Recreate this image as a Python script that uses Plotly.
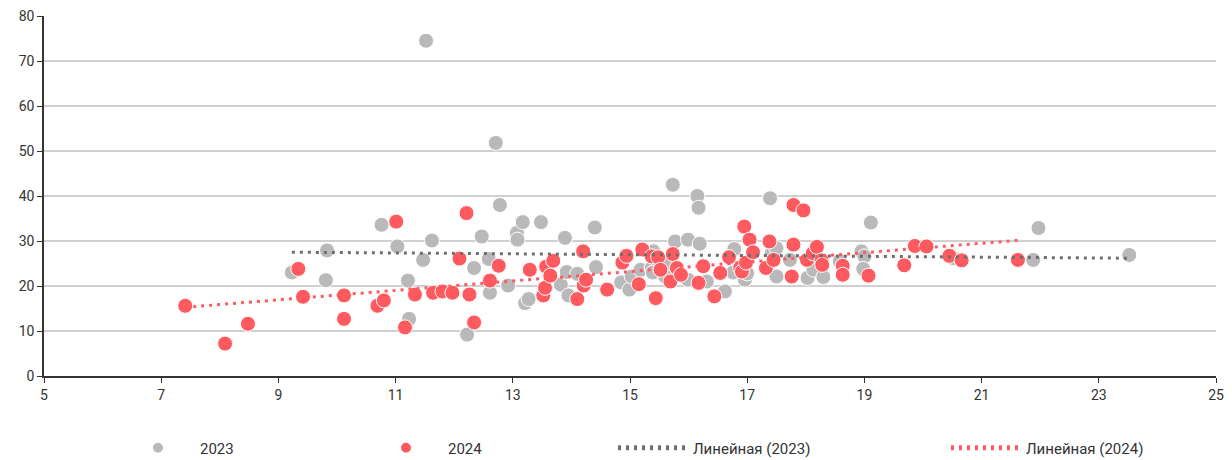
import numpy as np
import plotly.graph_objects as go

# ---- data ----
x2023 = [9.23, 9.83, 9.81, 10.76, 11.03, 11.21, 11.23, 11.52, 11.47, 11.62,
         12.22, 12.34, 12.47, 12.59, 12.61, 12.71, 12.78, 12.92, 13.07, 13.08,
         13.17, 13.21, 13.27, 13.48, 13.82, 13.89, 13.92, 13.95, 14.10, 14.40,
         14.42, 14.85, 14.99, 15.03, 15.18, 15.37, 15.40, 15.39, 15.60, 15.63,
         15.73, 15.77, 15.99, 15.99, 16.15, 16.17, 16.19, 16.31, 16.62, 16.76,
         16.78, 16.96, 17.00, 17.39, 17.42, 17.50, 17.50, 17.73, 18.03, 18.13,
         18.30, 18.58, 18.95, 19.00, 18.98, 19.11, 20.52, 21.88, 21.97, 23.52]
y2023 = [23.0, 27.9, 21.3, 33.6, 28.8, 21.2, 12.7, 74.5, 25.8, 30.1,
         9.2, 24.0, 31.0, 26.0, 18.5, 51.8, 38.0, 20.1, 31.8, 30.3,
         34.2, 16.2, 17.1, 34.2, 20.3, 30.7, 23.1, 17.9, 22.7, 33.0,
         24.2, 20.8, 19.2, 22.1, 23.6, 24.0, 27.7, 23.0, 22.1, 25.1,
         42.5, 29.9, 30.3, 21.4, 40.0, 37.4, 29.4, 21.0, 18.8, 23.0,
         28.2, 21.4, 22.8, 39.5, 27.3, 22.1, 28.4, 25.8, 21.8, 23.6,
         22.0, 25.5, 27.7, 26.6, 23.8, 34.1, 26.2, 25.8, 32.9, 26.9]

x2024 = [7.41, 8.09, 8.48, 9.34, 9.42, 10.12, 10.12, 10.69, 10.80, 11.01,
         11.16, 11.33, 11.64, 11.80, 11.97, 12.09, 12.21, 12.26, 12.34, 12.61,
         12.76, 13.29, 13.52, 13.55, 13.57, 13.64, 13.69, 14.10, 14.21, 14.25,
         14.20, 14.61, 14.87, 14.94, 15.15, 15.21, 15.37, 15.44, 15.48, 15.52,
         15.69, 15.73, 15.80, 15.87, 16.17, 16.25, 16.44, 16.54, 16.69, 16.88,
         16.91, 16.95, 16.98, 17.04, 17.10, 17.32, 17.38, 17.45, 17.76, 17.79,
         17.79, 17.96, 18.02, 18.12, 18.19, 18.27, 18.28, 18.63, 18.63, 19.07,
         19.68, 19.86, 20.06, 20.45, 20.66, 21.62]
y2024 = [15.6, 7.2, 11.6, 23.8, 17.6, 17.9, 12.7, 15.6, 16.8, 34.3,
         10.8, 18.1, 18.5, 18.8, 18.5, 26.1, 36.2, 18.1, 11.9, 21.2,
         24.5, 23.6, 17.9, 19.6, 24.3, 22.3, 25.6, 17.1, 20.1, 21.4,
         27.7, 19.2, 25.2, 26.7, 20.4, 28.1, 26.6, 17.3, 26.4, 23.6,
         21.0, 27.1, 24.0, 22.5, 20.7, 24.4, 17.7, 22.9, 26.4, 24.0,
         23.2, 33.2, 25.2, 30.3, 27.5, 24.0, 29.9, 25.8, 22.1, 29.2,
         38.0, 36.8, 25.8, 27.3, 28.7, 25.7, 24.7, 24.5, 22.5, 22.3,
         24.6, 28.9, 28.8, 26.7, 25.7, 25.8]

series_names = ["2023", "2024"]
trend_names = ["Линейная (2023)", "Линейная (2024)"]
x_ticks = [5, 7, 9, 11, 13, 15, 17, 19, 21, 23, 25]
y_ticks = [0, 10, 20, 30, 40, 50, 60, 70, 80]

GRAY = "#b9b9bb"
RED = "#ff5a5f"
GRAY_LINE = "#6e6e6e"
FONT = "Roboto"
TXT = "#333333"


def trend(xs, ys):
    k, b = np.polyfit(xs, ys, 1)
    xx = np.array([min(xs), max(xs)])
    return xx, k * xx + b


fig = go.Figure()
fig.add_trace(go.Scatter(x=x2023, y=y2023, mode="markers", name=series_names[0],
                         marker=dict(color=GRAY, size=15, line=dict(color="white", width=1)),
                         legend="legend"))
fig.add_trace(go.Scatter(x=x2024, y=y2024, mode="markers", name=series_names[1],
                         marker=dict(color=RED, size=15, line=dict(color="white", width=1)),
                         legend="legend2"))
tx, ty = trend(x2023, y2023)
fig.add_trace(go.Scatter(x=tx, y=ty, mode="lines", name=trend_names[0],
                         line=dict(color=GRAY_LINE, width=3, dash="3px,5px"),
                         legend="legend3"))
tx, ty = trend(x2024, y2024)
fig.add_trace(go.Scatter(x=tx, y=ty, mode="lines", name=trend_names[1],
                         line=dict(color=RED, width=3, dash="3px,5px"),
                         legend="legend4"))

W, H = 1224, 452
ly = 12 / H


def leg(x0, iw):
    return dict(x=x0 / W, y=ly, xref="container", yref="container",
                xanchor="left", yanchor="middle", orientation="h",
                itemwidth=iw, itemsizing="constant", bgcolor="rgba(0,0,0,0)",
                font=dict(family=FONT, size=15, color=TXT))


fig.update_layout(
    width=W, height=H,
    margin=dict(l=36, r=16, t=8, b=83.5, autoexpand=False),
    paper_bgcolor="white", plot_bgcolor="white",
    font=dict(family=FONT, size=14, color=TXT),
    showlegend=True,
    legend=leg(108, 74),
    legend2=leg(356, 74),
    legend3=leg(605, 70),
    legend4=leg(938, 70),
    xaxis=dict(range=[5, 25], tickvals=x_ticks, showgrid=False, zeroline=False,
               showline=True, linecolor="#333333", linewidth=1.5, automargin=False,
               ticks="outside", ticklen=5, tickcolor="#333333", tickwidth=1,
               ticklabeloverflow="allow",
               tickfont=dict(family=FONT, size=14, color=TXT)),
    yaxis=dict(range=[0, 80], tickvals=y_ticks, showgrid=True, gridcolor="#d0d0d0",
               gridwidth=1.5, zeroline=False, automargin=False,
               showline=True, linecolor="#333333", linewidth=1.5,
               ticks="outside", ticklen=5, tickcolor="#333333", tickwidth=1,
               ticklabeloverflow="allow",
               tickfont=dict(family=FONT, size=14, color=TXT)),
)

fig.write_html("out.html")
